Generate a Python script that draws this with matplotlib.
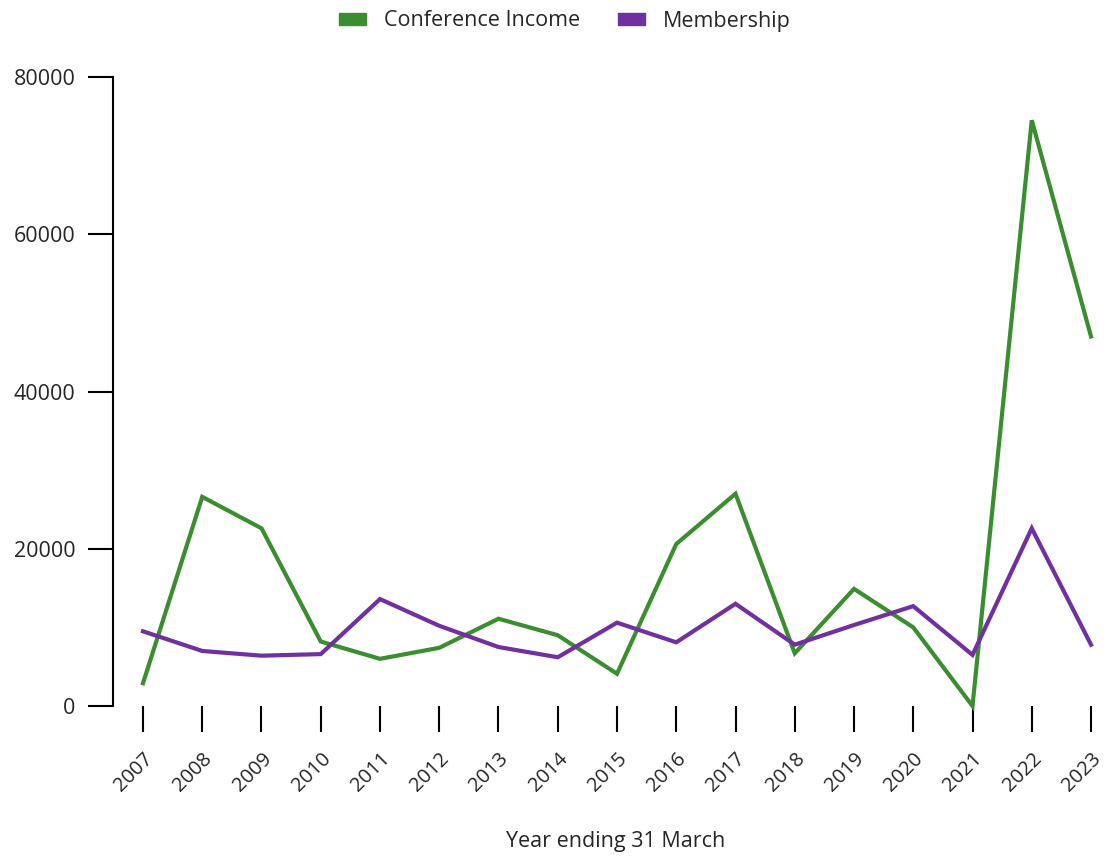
import matplotlib
matplotlib.use("Agg")
import matplotlib.pyplot as plt
from matplotlib.patches import Patch

years = list(range(2007, 2024))
conference_income = [2900, 26600, 22600, 8200, 6000, 7400, 11100, 9000, 4100,
                     20600, 27000, 6700, 14900, 10000, 0, 74500, 47000]
membership = [9500, 7000, 6400, 6600, 13600, 10200, 7500, 6200, 10600,
              8100, 13000, 7800, 10300, 12700, 6500, 22600, 7800]
series_names = ["Conference Income", "Membership"]
colors = ["#3a8e2f", "#7030a0"]
yticks = [0, 20000, 40000, 60000, 80000]

plt.rcParams['font.family'] = ['Open Sans', 'DejaVu Sans']
txt = '#262626'

W, H = 1110, 859
fig = plt.figure(figsize=(W / 100, H / 100), dpi=100)
left, right, top, bottom = 113, 1105, 77, 706
ax = fig.add_axes([left / W, 1 - bottom / H, (right - left) / W, (bottom - top) / H])

step = 59.25
x0 = 2007 - (143 - left) / step
x1 = x0 + (right - left) / step
ax.set_xlim(x0, x1)
ax.set_ylim(0, 80000)

ax.plot(years, conference_income, color=colors[0], lw=3, clip_on=False, solid_joinstyle='miter')
ax.plot(years, membership, color=colors[1], lw=3, clip_on=False, solid_joinstyle='miter')

for s in ['top', 'right', 'bottom']:
    ax.spines[s].set_visible(False)
ax.spines['left'].set_linewidth(1.5)

ax.set_yticks(yticks)
ax.set_yticklabels([str(v) for v in yticks])
ax.tick_params(axis='y', length=18, width=1.5, pad=9, labelsize=15.5, color='black',
               labelcolor=txt)
ax.set_xticks(years)
ax.set_xticklabels([str(y) for y in years], rotation=45, ha='right', va='top',
                   rotation_mode='anchor')
ax.tick_params(axis='x', length=19, width=1.5, pad=12, labelsize=14.5, color='black',
               labelcolor=txt)

fig.text(616 / W, 1 - 842 / H, "Year ending 31 March", ha='center', va='center',
         fontsize=15.5, color=txt)

handles = [Patch(facecolor=c, edgecolor=c) for c in colors]
fig.legend(handles, series_names, loc='center', bbox_to_anchor=(565 / W, 1 - 21 / H),
           ncol=2, frameon=False, fontsize=15.5, handlelength=1.25, handleheight=0.45,
           columnspacing=1.75, handletextpad=0.85, labelcolor=txt)

fig.savefig("out.png", dpi=100)
